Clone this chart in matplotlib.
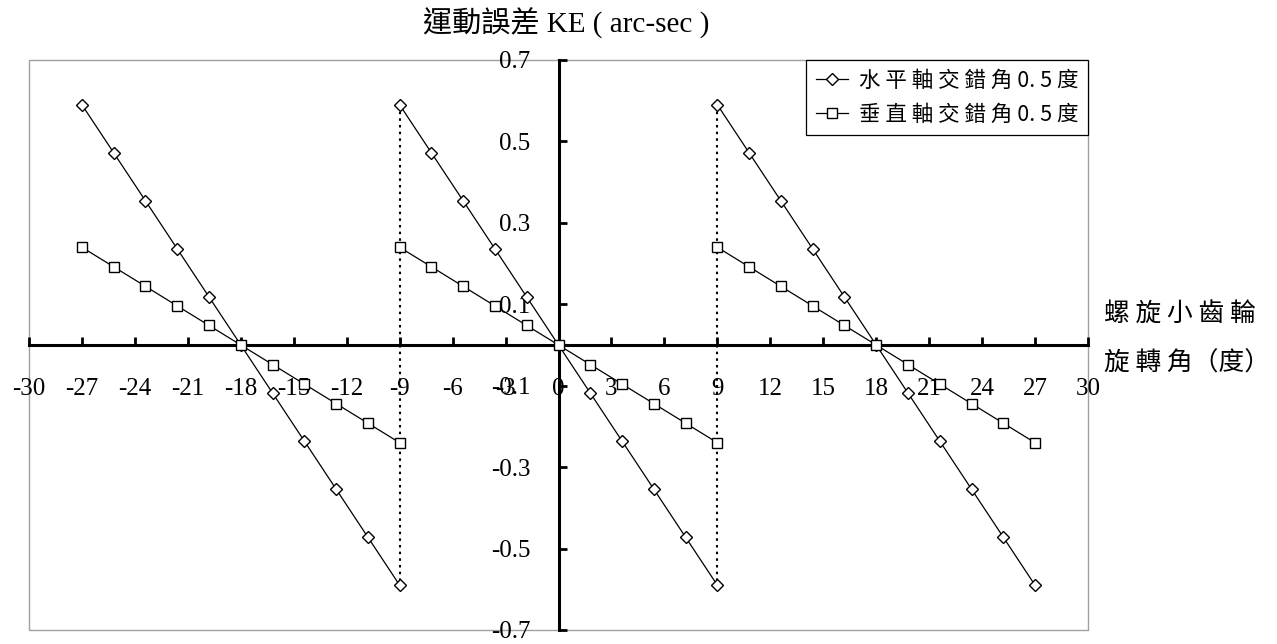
import matplotlib
matplotlib.use("Agg")
import matplotlib.pyplot as plt
from matplotlib.lines import Line2D
from matplotlib.patches import Rectangle

plt.rcParams['font.family'] = ['Liberation Serif', 'Noto Sans CJK TC']

# Pinion rotation angle (deg) for the three meshing cycles
angle_cycle1 = [-27, -25.2, -23.4, -21.6, -19.8, -18, -16.2, -14.4, -12.6, -10.8, -9]
angle_cycle2 = [-9, -7.2, -5.4, -3.6, -1.8, 0, 1.8, 3.6, 5.4, 7.2, 9]
angle_cycle3 = [9, 10.8, 12.6, 14.4, 16.2, 18, 19.8, 21.6, 23.4, 25.2, 27]

# Kinematic error (arc-sec) over one cycle
ke_horizontal = [0.59, 0.472, 0.354, 0.236, 0.118, 0.0, -0.118, -0.236, -0.354, -0.472, -0.59]
ke_vertical = [0.24, 0.192, 0.144, 0.096, 0.048, 0.0, -0.048, -0.096, -0.144, -0.192, -0.24]

# Jumps between cycles
jump_angles = [-9, 9]

x_ticks = [-30, -27, -24, -21, -18, -15, -12, -9, -6, -3, 0, 3, 6, 9, 12, 15, 18, 21, 24, 27, 30]
x_tick_labels = [str(v) for v in x_ticks]
y_ticks = [-0.7, -0.5, -0.3, -0.1, 0.1, 0.3, 0.5, 0.7]
y_tick_labels = ["-0.7", "-0.5", "-0.3", "-0.1", "0.1", "0.3", "0.5", "0.7"]

label_h = "水 平 軸 交 錯 角 0. 5 度"
label_v = "垂 直 軸 交 錯 角 0. 5 度"

W, H = 1277, 644
fig = plt.figure(figsize=(W / 100, H / 100), dpi=100)
ax = fig.add_axes([29 / W, 1 - 630 / H, (1088 - 29) / W, (630 - 60) / H])
ax.set_xlim(-30, 30)
ax.set_ylim(-0.7, 0.7)

# Gray plot-area frame
ax.add_patch(Rectangle((0, 0), 1, 1, transform=ax.transAxes, fill=False,
                       edgecolor='#a0a0a0', linewidth=1.0, zorder=0, clip_on=False))

for side in ('top', 'right'):
    ax.spines[side].set_visible(False)
ax.spines['left'].set_position(('data', 0))
ax.spines['bottom'].set_position(('data', 0))
for side in ('left', 'bottom'):
    ax.spines[side].set_linewidth(2.2)
    ax.spines[side].set_zorder(2)

ax.set_xticks(x_ticks)
ax.set_xticklabels(x_tick_labels)
ax.set_yticks(y_ticks)
ax.set_yticklabels(y_tick_labels)
ax.tick_params(axis='both', direction='in', length=6, width=2.0, labelsize=18)
ax.tick_params(axis='x', pad=24)
ax.tick_params(axis='y', pad=20)

line_kw = dict(color='black', linewidth=0.9, markerfacecolor='white',
               markeredgecolor='black', markeredgewidth=1.0)

for xs in (angle_cycle1, angle_cycle2, angle_cycle3):
    ax.plot(xs, ke_horizontal, marker='D', markersize=5.8, clip_on=False, zorder=4, **line_kw)
    ax.plot(xs, ke_vertical, marker='s', markersize=7.2, clip_on=False, zorder=4, **line_kw)

for xj in jump_angles:
    ax.plot([xj, xj], [ke_horizontal[0], ke_horizontal[-1]], color='black',
            linewidth=1.5, linestyle=(0, (1.2, 2.0)), zorder=3)

handles = [
    Line2D([], [], marker='D', markersize=5.8, **line_kw),
    Line2D([], [], marker='s', markersize=7.2, **line_kw),
]
leg = ax.legend(handles, [label_h, label_v], loc='upper right', bbox_to_anchor=(1.0, 1.0),
                borderaxespad=0, fancybox=False, framealpha=1, edgecolor='black',
                handlelength=1.5, handletextpad=0.5, borderpad=0.45, labelspacing=0.55,
                prop={'family': ['Noto Sans CJK TC'], 'size': 15.5})
leg.get_frame().set_linewidth(0.9)

fig.text(566 / W, 1 - 23 / H, "運動誤差 KE ( arc-sec )", ha='center', va='center', fontsize=21)
fig.text(1104 / W, 1 - 314 / H, "螺 旋 小 齒 輪", ha='left', va='center', fontsize=18.5,
         family=['Noto Sans CJK TC'])
fig.text(1104 / W, 1 - 364 / H, "旋 轉 角（度）", ha='left', va='center', fontsize=18.5,
         family=['Noto Sans CJK TC'])

fig.savefig("out.png", dpi=100)
